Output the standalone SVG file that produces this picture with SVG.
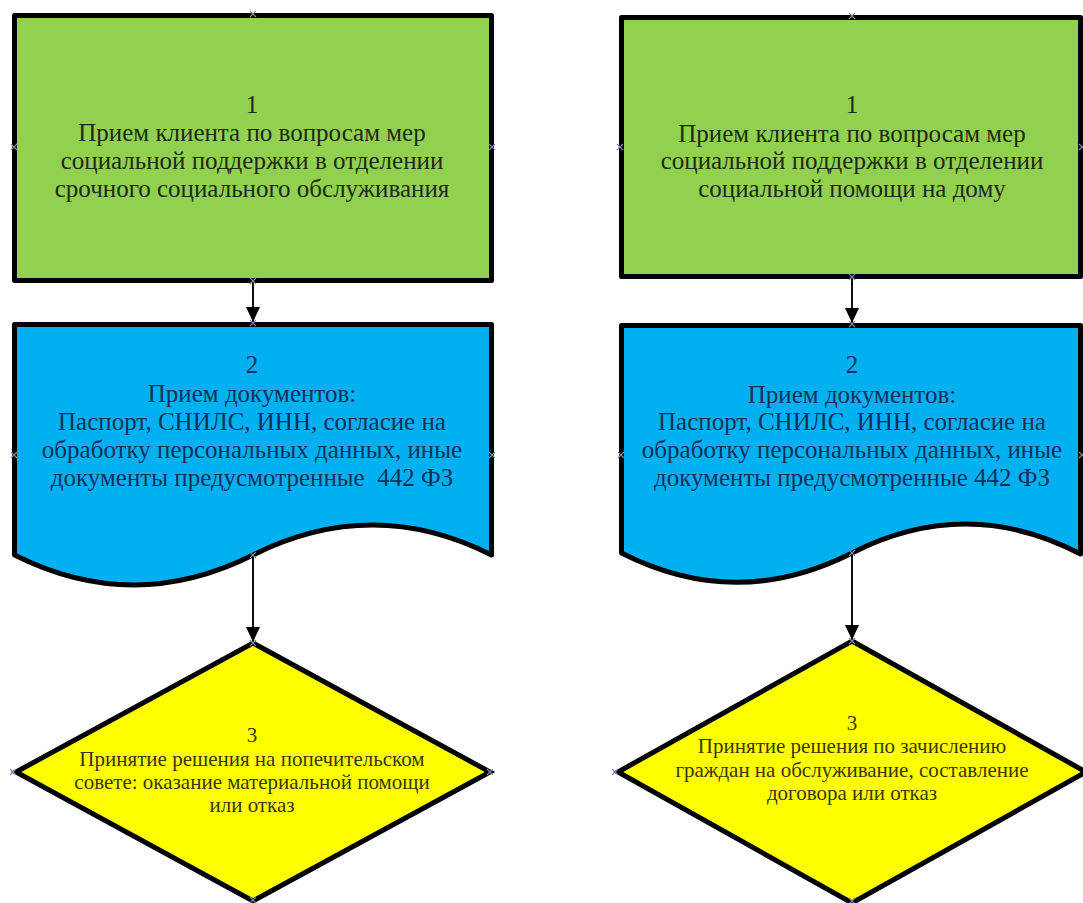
<svg xmlns="http://www.w3.org/2000/svg" width="1083" height="903" viewBox="0 0 1083 903">
  <defs>
    <style>
      .shape { stroke: #000; stroke-width: 5; }
      .proc { fill: #92d050; stroke-linejoin: round; }
      .doc { fill: #00b0f0; stroke-linejoin: round; }
      .dec { fill: #ffff00; stroke-linejoin: miter; stroke-miterlimit: 10; }
      .t { font-family: "Liberation Serif", "DejaVu Serif", serif; text-anchor: middle; }
      .tg { font-size: 25px; fill: #1c2b12; }
      .tb { font-size: 25px; fill: #14305a; }
      .ty { font-size: 21px; fill: #3a3600; }
      .conn { stroke: #111; stroke-width: 2; fill: none; }
      .cp { stroke: #8088aa; stroke-width: 1.2; fill: none; }
    </style>
    <marker id="arrow" markerUnits="userSpaceOnUse" markerWidth="16" markerHeight="14" viewBox="0 0 16 14" refX="15" refY="7" orient="auto">
      <path d="M0,0 L15,7 L0,14 Z" fill="#000"/>
    </marker>
    <path id="x" d="M-3,-3 L3,3 M-3,3 L3,-3" class="cp"/>
  </defs>

  <rect width="1083" height="903" fill="#ffffff"/>

  <!-- Left column -->
  <g id="node-l1">
    <rect class="shape proc" x="14.5" y="15.5" width="477" height="265"/>
    <text class="t tg" x="252" y="113">1</text>
    <text class="t tg" x="252" y="141">Прием клиента по вопросам мер</text>
    <text class="t tg" x="252" y="169">социальной поддержки в отделении</text>
    <text class="t tg" x="252" y="197">срочного социального обслуживания</text>
  </g>

  <g id="node-l2">
    <path class="shape doc" d="M14.5,324.5 H491.5 V555 C412,515 333,515 253,555 C173,595 94,595 14.5,555 Z"/>
    <text class="t tb" x="252" y="373">2</text>
    <text class="t tb" x="252" y="402">Прием документов:</text>
    <text class="t tb" x="252" y="430">Паспорт, СНИЛС, ИНН, согласие на</text>
    <text class="t tb" x="252" y="458">обработку персональных данных, иные</text>
    <text class="t tb" x="252" y="486" xml:space="preserve">документы предусмотренные  442 ФЗ</text>
  </g>

  <g id="node-l3">
    <polygon class="shape dec" points="253,643 490,772 253,901 16,772"/>
    <text class="t ty" x="252" y="742">3</text>
    <text class="t ty" x="252" y="766">Принятие решения на попечительском</text>
    <text class="t ty" x="252" y="789">совете: оказание материальной помощи</text>
    <text class="t ty" x="252" y="812">или отказ</text>
  </g>

  <!-- Right column -->
  <g id="node-r1">
    <rect class="shape proc" x="621.5" y="17.5" width="459" height="259"/>
    <text class="t tg" x="852" y="113">1</text>
    <text class="t tg" x="852" y="142">Прием клиента по вопросам мер</text>
    <text class="t tg" x="852" y="169">социальной поддержки в отделении</text>
    <text class="t tg" x="852" y="197">социальной помощи на дому</text>
  </g>

  <g id="node-r2">
    <path class="shape doc" d="M621.5,325.5 H1080.5 V554 C1004,514 929,514 852,553 C775,592 698,592 621.5,553 Z"/>
    <text class="t tb" x="852" y="373">2</text>
    <text class="t tb" x="852" y="403">Прием документов:</text>
    <text class="t tb" x="852" y="430">Паспорт, СНИЛС, ИНН, согласие на</text>
    <text class="t tb" x="852" y="458">обработку персональных данных, иные</text>
    <text class="t tb" x="852" y="486">документы предусмотренные 442 ФЗ</text>
  </g>

  <g id="node-r3">
    <polygon class="shape dec" points="852,641 1086,772 852,903 618,772"/>
    <text class="t ty" x="852" y="730">3</text>
    <text class="t ty" x="852" y="753">Принятие решения по зачислению</text>
    <text class="t ty" x="852" y="777">граждан на обслуживание, составление</text>
    <text class="t ty" x="852" y="800">договора или отказ</text>
  </g>

  <!-- Connectors -->
  <g id="connectors">
    <line class="conn" x1="253" y1="281" x2="253" y2="322" marker-end="url(#arrow)"/>
    <line class="conn" x1="253" y1="556" x2="253" y2="642" marker-end="url(#arrow)"/>
    <line class="conn" x1="852" y1="277" x2="852" y2="323" marker-end="url(#arrow)"/>
    <line class="conn" x1="852" y1="554" x2="852" y2="640" marker-end="url(#arrow)"/>
  </g>

  <!-- Connection points -->
  <g id="connection-points">
    <use href="#x" x="253" y="14"/>
    <use href="#x" x="253" y="281"/>
    <use href="#x" x="14" y="147"/>
    <use href="#x" x="492" y="147"/>
    <use href="#x" x="253" y="323"/>
    <use href="#x" x="14" y="455"/>
    <use href="#x" x="492" y="455"/>
    <use href="#x" x="253" y="555"/>
    <use href="#x" x="253" y="643"/>
    <use href="#x" x="13" y="772"/>
    <use href="#x" x="490" y="772"/>
    <use href="#x" x="253" y="900"/>
    <use href="#x" x="852" y="16"/>
    <use href="#x" x="852" y="277"/>
    <use href="#x" x="620" y="147"/>
    <use href="#x" x="1082" y="147"/>
    <use href="#x" x="852" y="324"/>
    <use href="#x" x="621" y="455"/>
    <use href="#x" x="1082" y="455"/>
    <use href="#x" x="852" y="553"/>
    <use href="#x" x="852" y="641"/>
    <use href="#x" x="615" y="772"/>
    <use href="#x" x="852" y="901"/>
  </g>
</svg>
